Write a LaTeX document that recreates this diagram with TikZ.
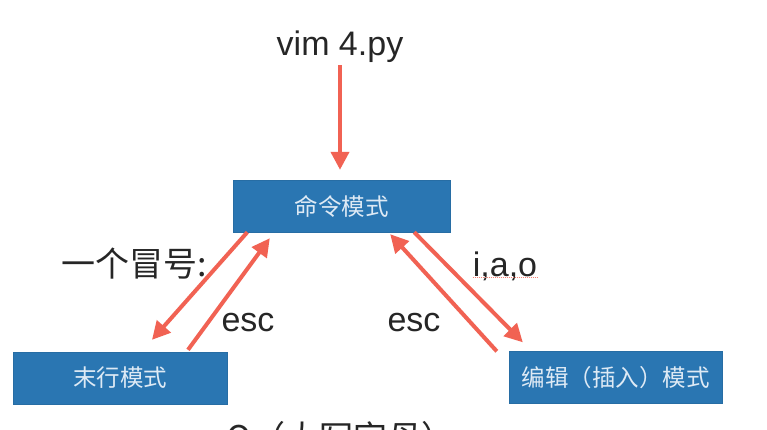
\documentclass[tikz,border=0pt]{standalone}
\usepackage{fontspec}
\setmainfont{Liberation Sans}
\newfontfamily\cjk{Noto Sans CJK SC}
\usetikzlibrary{arrows.meta}
\definecolor{boxblue}{RGB}{42,118,178}
\definecolor{boxtext}{RGB}{222,234,245}
\definecolor{arrowred}{RGB}{241,98,83}
\tikzset{
  modebox/.style={draw=boxblue!92!black, fill=boxblue, text=boxtext, inner sep=0pt,
    minimum height=52pt, font=\cjk\fontsize{23.5}{28}\selectfont},
  redarrow/.style={draw=arrowred, line width=4pt, -{Triangle[length=18pt,width=18pt]}},
  lbl/.style={inner sep=0pt, text=black!85, font=\fontsize{34}{40}\selectfont}
}
\begin{document}
\begin{tikzpicture}[x=1pt,y=-1pt]
        \clip (0,0) rectangle (767,429);
        \fill[white] (0,0) rectangle (767,429);

        % the three modes
        \node[modebox, minimum width=217pt] (cmd) at (341.5,206) {命令模式};
        \node[modebox, minimum width=214pt] (last) at (120,378) {末行模式};
        \node[modebox, minimum width=213pt] (edit) at (615.5,377.5) {编辑（插入）模式};

        % labels
        \node[lbl] (vim) at (340,47) {vim 4.py};
        \node[lbl, font=\cjk\fontsize{34}{40}\selectfont] (colon) at (134,264) {一个冒号:};
        \node[lbl] (escl) at (248,323) {esc};
        \node[lbl] (escr) at (414,323) {esc};
        \node[lbl] (iao) at (505,266) {i,a,o};
        \node[lbl, font=\cjk\fontsize{34}{40}\selectfont, anchor=base west] (bigq) at (226,450) {Q（大写字母）};
        \draw[arrowred!80, densely dotted, line width=1pt] ([yshift=3pt]iao.south west) -- ([yshift=3pt]iao.south east);

        % transitions
        \draw[redarrow, shorten <=2pt, shorten >=10pt] (vim.south) -- (vim.south |- cmd.north);
        \draw[redarrow] ([shift={(14.5,0)}]cmd.south west) -- ([shift={(32,-12)}]last.north);
        \draw[redarrow] ([shift={(68,-2)}]last.north) -- ([shift={(37,6)}]cmd.south west);
        \draw[redarrow] ([shift={(-36,0)}]cmd.south east) -- ([shift={(14,-9)}]edit.north west);
        \draw[redarrow] ([shift={(-12,0)}]edit.north west) -- ([shift={(-60,2)}]cmd.south east);
\end{tikzpicture}
\end{document}
